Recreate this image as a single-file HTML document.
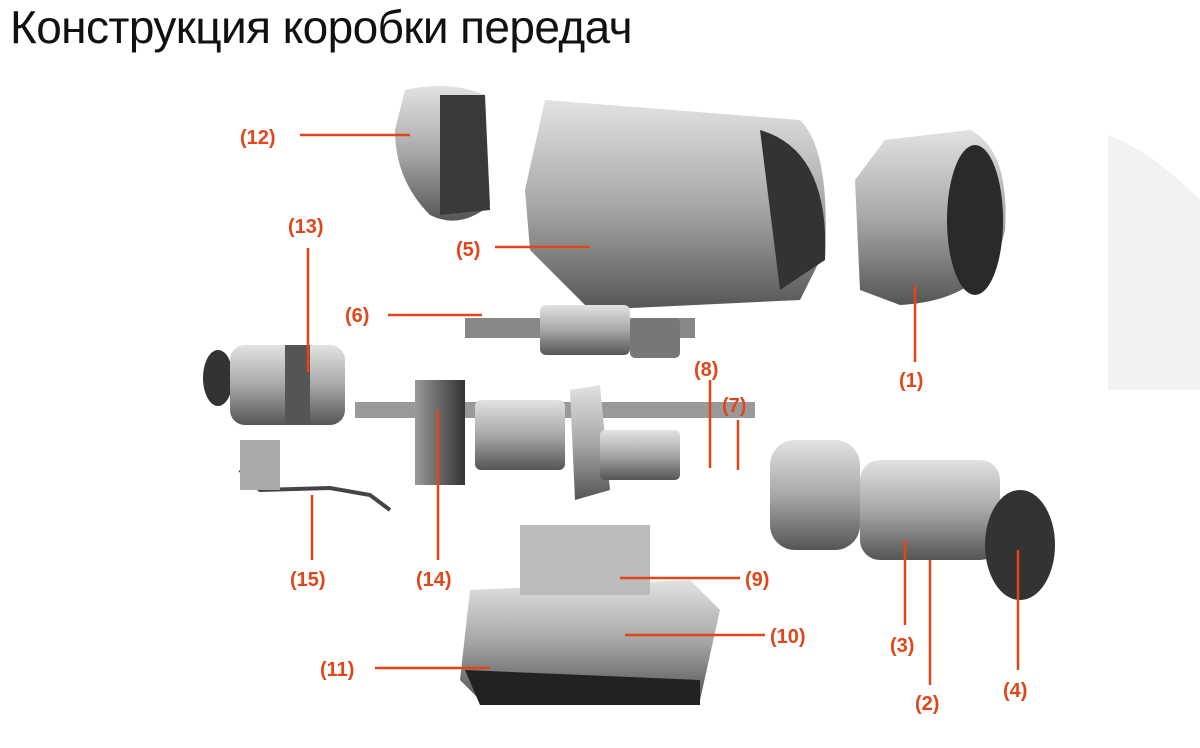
<!DOCTYPE html>
<html><head><meta charset="utf-8"><style>
body{margin:0;width:1200px;height:748px;background:#fff;overflow:hidden;position:relative;font-family:"Liberation Sans",sans-serif}
h1{position:absolute;left:10px;top:0px;margin:0;font-weight:normal;font-size:46px;color:#111;letter-spacing:-0.6px}
svg{position:absolute;left:0;top:0}
.l{font-family:"Liberation Sans",sans-serif;font-weight:bold;font-size:20px;fill:#e0461a}
</style></head><body>
<h1>Конструкция коробки передач</h1>
<svg width="1200" height="748">
<defs>
<linearGradient id="g" x1="0" y1="0" x2="0" y2="1"><stop offset="0" stop-color="#e2e2e2"/><stop offset="0.5" stop-color="#a8a8a8"/><stop offset="1" stop-color="#555"/></linearGradient>
<linearGradient id="d" x1="0" y1="0" x2="1" y2="0"><stop offset="0" stop-color="#999"/><stop offset="1" stop-color="#333"/></linearGradient>
</defs>
<path d="M1108 135 Q1150 150 1200 200 L1200 390 L1108 390 Z" fill="#f2f2f2"/>
<path d="M405 90 Q450 80 485 95 L490 205 Q460 230 430 215 Q395 180 395 130 Z" fill="url(#g)"/>
<path d="M440 95 L485 95 L490 210 L440 215 Z" fill="#3a3a3a"/>
<path d="M545 100 L800 120 Q830 150 825 250 L800 300 L590 310 L530 250 L525 190 Z" fill="url(#g)"/>
<path d="M760 130 Q830 150 825 260 L780 290 Z" fill="#333"/>
<path d="M885 140 L970 130 Q1010 150 1005 230 Q990 300 900 305 L860 290 L855 180 Z" fill="url(#g)"/>
<ellipse cx="975" cy="220" rx="28" ry="75" fill="#2a2a2a"/>
<rect x="465" y="318" width="230" height="20" fill="#888"/>
<rect x="540" y="305" width="90" height="50" rx="6" fill="url(#g)"/>
<rect x="630" y="318" width="50" height="40" rx="5" fill="#777"/>
<ellipse cx="218" cy="378" rx="15" ry="28" fill="#333"/>
<rect x="230" y="345" width="115" height="80" rx="15" fill="url(#g)"/>
<rect x="285" y="345" width="25" height="80" fill="#555"/>
<rect x="355" y="402" width="400" height="16" fill="#999"/>
<rect x="415" y="380" width="50" height="105" fill="url(#d)"/>
<rect x="475" y="400" width="90" height="70" rx="6" fill="url(#g)"/>
<path d="M570 390 L600 385 L610 490 L575 500 Z" fill="url(#g)"/>
<rect x="600" y="430" width="80" height="50" rx="5" fill="url(#g)"/>
<path d="M240 470 L260 490 L330 488 L370 495 L390 510" stroke="#444" stroke-width="4" fill="none"/>
<rect x="240" y="440" width="40" height="50" fill="#aaa"/>
<rect x="770" y="440" width="90" height="110" rx="25" fill="url(#g)"/>
<rect x="860" y="460" width="140" height="100" rx="20" fill="url(#g)"/>
<ellipse cx="1020" cy="545" rx="35" ry="55" fill="#333"/>
<path d="M470 590 L690 580 L720 610 L700 700 L480 700 L460 680 Z" fill="url(#g)"/>
<rect x="520" y="525" width="130" height="70" fill="#bbb"/>
<path d="M465 670 L700 680 L700 705 L480 705 Z" fill="#222"/>
<g stroke="#e0461a" stroke-width="2.5" fill="none">
<line x1="300" y1="135" x2="410" y2="135"/>
<line x1="495" y1="247" x2="590" y2="247"/>
<line x1="308" y1="248" x2="308" y2="372"/>
<line x1="388" y1="315" x2="482" y2="315"/>
<line x1="710" y1="380" x2="710" y2="468"/>
<line x1="738" y1="420" x2="738" y2="470"/>
<line x1="915" y1="285" x2="915" y2="362"/>
<line x1="312" y1="495" x2="312" y2="560"/>
<line x1="438" y1="410" x2="438" y2="560"/>
<line x1="620" y1="578" x2="740" y2="578"/>
<line x1="625" y1="635" x2="765" y2="635"/>
<line x1="375" y1="668" x2="490" y2="668"/>
<line x1="905" y1="540" x2="905" y2="625"/>
<line x1="930" y1="560" x2="930" y2="685"/>
<line x1="1018" y1="550" x2="1018" y2="670"/>
</g>
<g class="l">
<text x="240" y="144">(12)</text>
<text x="456" y="256">(5)</text>
<text x="288" y="233">(13)</text>
<text x="345" y="322">(6)</text>
<text x="694" y="376">(8)</text>
<text x="722" y="412">(7)</text>
<text x="899" y="387">(1)</text>
<text x="290" y="586">(15)</text>
<text x="416" y="586">(14)</text>
<text x="745" y="586">(9)</text>
<text x="770" y="643">(10)</text>
<text x="320" y="676">(11)</text>
<text x="890" y="652">(3)</text>
<text x="915" y="710">(2)</text>
<text x="1003" y="697">(4)</text>
</g>
</svg>
</body></html>
